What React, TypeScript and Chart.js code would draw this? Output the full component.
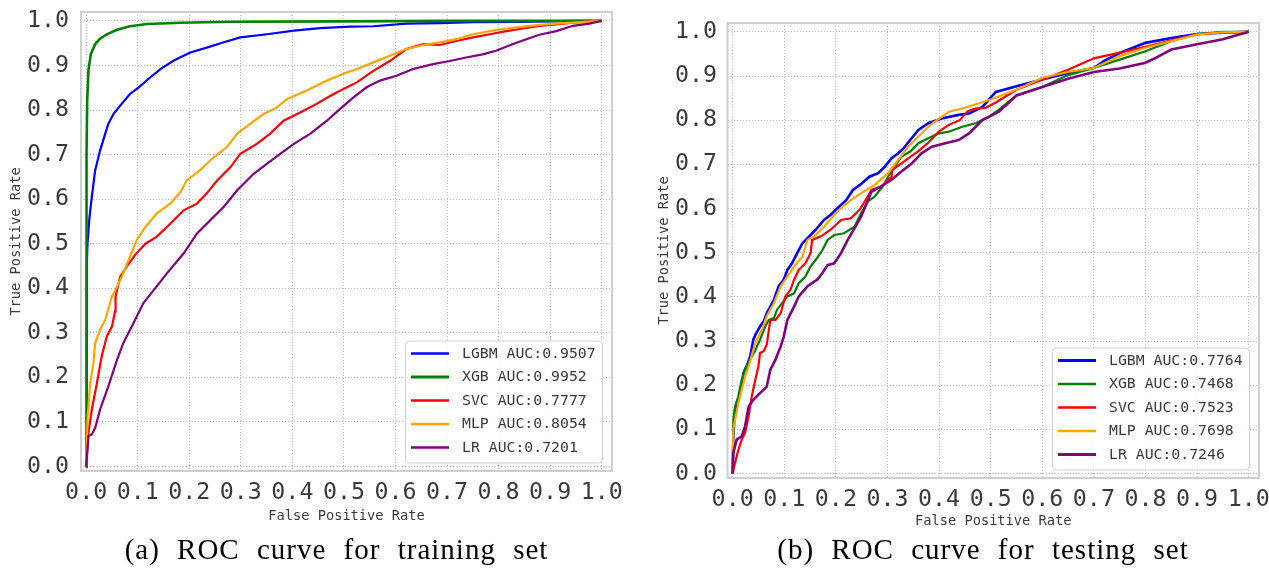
import React, { useEffect, useRef } from 'react';
import { Chart, registerables } from 'chart.js';

Chart.register(...registerables);

// ---------- shared labels ----------
const tickValues = [0, 0.1, 0.2, 0.3, 0.4, 0.5, 0.6, 0.7, 0.8, 0.9, 1.0];
const tickLabels = ['0.0', '0.1', '0.2', '0.3', '0.4', '0.5', '0.6', '0.7', '0.8', '0.9', '1.0'];
const modelNames = ['LGBM', 'XGB', 'SVC', 'MLP', 'LR'];
const modelColors = ['#0000ff', '#008000', '#ff0000', '#ffa500', '#800080'];
const trainAuc = ['0.9507', '0.9952', '0.7777', '0.8054', '0.7201'];
const testAuc = ['0.7764', '0.7468', '0.7523', '0.7698', '0.7246'];
const xAxisTitle = 'False Positive Rate';
const yAxisTitle = 'True Positive Rate';
const captionTrain = '(a) ROC curve for training set';
const captionTest = '(b) ROC curve for testing set';

// ---------- training set ROC points [fpr, tpr] ----------
const trainLgbm = [
  [0, 0], [0.001, 0.3], [0.0015, 0.45], [0.0026, 0.5], [0.0065, 0.56], [0.011, 0.605], [0.0175, 0.665],
  [0.027, 0.709], [0.037, 0.747], [0.043, 0.769], [0.053, 0.791], [0.066, 0.81], [0.085, 0.836],
  [0.102, 0.851], [0.124, 0.873], [0.144, 0.892], [0.17, 0.911], [0.202, 0.929], [0.234, 0.94],
  [0.267, 0.952], [0.299, 0.963], [0.351, 0.97], [0.403, 0.978], [0.454, 0.984], [0.513, 0.987],
  [0.557, 0.988], [0.621, 0.994], [0.686, 0.995], [0.75, 0.997], [0.847, 0.998], [0.944, 1.0], [1, 1],
];
const trainXgb = [
  [0, 0], [0.0005, 0.4], [0.001, 0.7], [0.002, 0.82], [0.0045, 0.89], [0.009, 0.925], [0.0175, 0.948],
  [0.027, 0.96], [0.04, 0.97], [0.06, 0.98], [0.085, 0.988], [0.118, 0.993], [0.183, 0.996],
  [0.28, 0.998], [0.5, 0.999], [0.7, 1], [1, 1],
];
const trainSvc = [
  [0, 0], [0.0045, 0.076], [0.011, 0.128], [0.021, 0.188], [0.03, 0.247], [0.04, 0.292], [0.05, 0.314],
  [0.056, 0.348], [0.057, 0.382], [0.066, 0.426], [0.079, 0.449], [0.095, 0.475], [0.115, 0.5],
  [0.137, 0.516], [0.163, 0.545], [0.189, 0.575], [0.215, 0.59], [0.234, 0.613], [0.254, 0.642],
  [0.28, 0.672], [0.299, 0.702], [0.331, 0.724], [0.357, 0.747], [0.383, 0.776], [0.416, 0.795],
  [0.441, 0.81], [0.474, 0.832], [0.5, 0.848], [0.525, 0.862], [0.557, 0.888], [0.589, 0.91],
  [0.621, 0.937], [0.654, 0.948], [0.686, 0.946], [0.718, 0.955], [0.75, 0.963], [0.783, 0.97],
  [0.815, 0.977], [0.847, 0.983], [0.879, 0.989], [0.912, 0.992], [0.944, 0.996], [1, 1],
];
const trainMlp = [
  [0, 0], [0.0026, 0.106], [0.0078, 0.188], [0.014, 0.232], [0.0175, 0.277], [0.027, 0.307],
  [0.037, 0.329], [0.05, 0.382], [0.06, 0.404], [0.069, 0.426], [0.085, 0.471], [0.098, 0.508],
  [0.115, 0.538], [0.137, 0.568], [0.163, 0.59], [0.183, 0.616], [0.195, 0.642], [0.221, 0.665],
  [0.247, 0.694], [0.273, 0.717], [0.293, 0.747], [0.318, 0.769], [0.344, 0.791], [0.37, 0.806],
  [0.39, 0.825], [0.428, 0.844], [0.467, 0.866], [0.5, 0.882], [0.525, 0.892], [0.557, 0.907],
  [0.589, 0.922], [0.621, 0.937], [0.654, 0.946], [0.686, 0.952], [0.718, 0.959], [0.75, 0.97],
  [0.783, 0.977], [0.815, 0.983], [0.847, 0.987], [0.879, 0.991], [0.912, 0.994], [0.944, 0.996], [1, 1],
];
const trainLr = [
  [0, 0], [0.0045, 0.069], [0.011, 0.072], [0.0175, 0.087], [0.027, 0.128], [0.043, 0.18], [0.06, 0.24],
  [0.072, 0.277], [0.092, 0.322], [0.111, 0.367], [0.131, 0.396], [0.157, 0.434], [0.189, 0.478],
  [0.215, 0.523], [0.247, 0.56], [0.267, 0.583], [0.293, 0.62], [0.325, 0.657], [0.351, 0.68],
  [0.377, 0.702], [0.403, 0.724], [0.435, 0.747], [0.467, 0.776], [0.492, 0.802], [0.518, 0.828],
  [0.544, 0.851], [0.57, 0.866], [0.602, 0.877], [0.634, 0.892], [0.673, 0.903], [0.705, 0.91],
  [0.737, 0.918], [0.769, 0.925], [0.795, 0.933], [0.828, 0.948], [0.854, 0.959], [0.879, 0.969],
  [0.912, 0.977], [0.944, 0.989], [0.976, 0.994], [1, 1],
];

// ---------- testing set ROC points [fpr, tpr] ----------
const testLgbm = [
  [0, 0], [0.0013, 0.084], [0.0046, 0.145], [0.011, 0.167], [0.0176, 0.197], [0.021, 0.228],
  [0.027, 0.243], [0.034, 0.265], [0.04, 0.303], [0.044, 0.314], [0.053, 0.333], [0.06, 0.344],
  [0.066, 0.363], [0.073, 0.378], [0.08, 0.393], [0.089, 0.424], [0.099, 0.439], [0.106, 0.461],
  [0.115, 0.476], [0.125, 0.499], [0.135, 0.521], [0.145, 0.533], [0.161, 0.552], [0.177, 0.574],
  [0.19, 0.586], [0.203, 0.601], [0.22, 0.619], [0.233, 0.642], [0.246, 0.653], [0.265, 0.672],
  [0.282, 0.68], [0.295, 0.695], [0.308, 0.714], [0.321, 0.725], [0.331, 0.736], [0.344, 0.755],
  [0.36, 0.778], [0.379, 0.793], [0.405, 0.804], [0.438, 0.812], [0.458, 0.815], [0.484, 0.83],
  [0.51, 0.864], [0.55, 0.877], [0.6, 0.892], [0.65, 0.907], [0.7, 0.918], [0.72, 0.934],
  [0.75, 0.952], [0.8, 0.975], [0.85, 0.986], [0.9, 0.995], [0.95, 0.998], [1, 1],
];
const testXgb = [
  [0, 0], [0.0013, 0.122], [0.0046, 0.152], [0.011, 0.175], [0.0176, 0.213], [0.024, 0.235],
  [0.034, 0.258], [0.044, 0.28], [0.053, 0.303], [0.063, 0.333], [0.07, 0.348], [0.08, 0.352],
  [0.086, 0.371], [0.096, 0.386], [0.106, 0.401], [0.119, 0.408], [0.128, 0.431], [0.141, 0.446],
  [0.151, 0.469], [0.161, 0.484], [0.174, 0.506], [0.184, 0.529], [0.197, 0.54], [0.216, 0.544],
  [0.236, 0.559], [0.249, 0.589], [0.262, 0.616], [0.275, 0.627], [0.291, 0.65], [0.301, 0.672],
  [0.314, 0.695], [0.327, 0.717], [0.344, 0.729], [0.36, 0.748], [0.379, 0.759], [0.399, 0.77],
  [0.419, 0.774], [0.445, 0.785], [0.471, 0.793], [0.497, 0.808], [0.516, 0.824], [0.55, 0.856],
  [0.6, 0.875], [0.65, 0.902], [0.7, 0.918], [0.75, 0.937], [0.8, 0.956], [0.85, 0.979],
  [0.9, 0.995], [0.95, 1.0], [1, 1],
];
const testSvc = [
  [0, 0], [0.0046, 0.024], [0.011, 0.054], [0.0176, 0.077], [0.024, 0.092], [0.031, 0.13],
  [0.037, 0.175], [0.044, 0.213], [0.05, 0.243], [0.053, 0.273], [0.06, 0.277], [0.066, 0.292],
  [0.073, 0.348], [0.083, 0.348], [0.093, 0.363], [0.102, 0.401], [0.112, 0.416], [0.119, 0.439],
  [0.128, 0.461], [0.141, 0.476], [0.151, 0.499], [0.154, 0.529], [0.171, 0.537], [0.19, 0.552],
  [0.21, 0.574], [0.229, 0.578], [0.246, 0.597], [0.256, 0.616], [0.269, 0.642], [0.288, 0.65],
  [0.308, 0.672], [0.309, 0.687], [0.327, 0.702], [0.344, 0.717], [0.36, 0.73], [0.38, 0.75],
  [0.4, 0.775], [0.42, 0.79], [0.44, 0.8], [0.455, 0.82], [0.47, 0.826], [0.49, 0.828],
  [0.51, 0.84], [0.55, 0.869], [0.6, 0.892], [0.65, 0.914], [0.7, 0.94], [0.75, 0.953],
  [0.8, 0.966], [0.85, 0.981], [0.9, 0.994], [0.95, 0.999], [1, 1],
];
const testMlp = [
  [0, 0], [0.0013, 0.1], [0.0046, 0.122], [0.011, 0.16], [0.0176, 0.19], [0.024, 0.22], [0.031, 0.243],
  [0.04, 0.28], [0.047, 0.303], [0.057, 0.326], [0.066, 0.356], [0.08, 0.386], [0.093, 0.424],
  [0.106, 0.446], [0.119, 0.469], [0.135, 0.491], [0.145, 0.529], [0.158, 0.537], [0.177, 0.559],
  [0.197, 0.586], [0.213, 0.604], [0.229, 0.619], [0.249, 0.635], [0.275, 0.653], [0.301, 0.68],
  [0.321, 0.71], [0.34, 0.74], [0.36, 0.763], [0.379, 0.785], [0.396, 0.8], [0.419, 0.819],
  [0.45, 0.828], [0.5, 0.847], [0.55, 0.869], [0.6, 0.896], [0.65, 0.909], [0.7, 0.918],
  [0.75, 0.945], [0.8, 0.964], [0.85, 0.979], [0.9, 0.994], [0.95, 0.999], [1, 1],
];
const testLr = [
  [0, 0], [0.0013, 0.047], [0.0078, 0.077], [0.0176, 0.084], [0.024, 0.107], [0.031, 0.152],
  [0.04, 0.167], [0.053, 0.182], [0.066, 0.197], [0.073, 0.235], [0.083, 0.258], [0.093, 0.288],
  [0.099, 0.31], [0.106, 0.348], [0.119, 0.378], [0.128, 0.401], [0.145, 0.424], [0.164, 0.439],
  [0.174, 0.454], [0.184, 0.472], [0.197, 0.476], [0.21, 0.499], [0.223, 0.529], [0.236, 0.555],
  [0.249, 0.582], [0.262, 0.619], [0.269, 0.638], [0.288, 0.65], [0.308, 0.665], [0.327, 0.684],
  [0.347, 0.702], [0.366, 0.725], [0.386, 0.74], [0.412, 0.748], [0.438, 0.755], [0.458, 0.77],
  [0.484, 0.8], [0.516, 0.819], [0.55, 0.856], [0.6, 0.875], [0.65, 0.894], [0.7, 0.909],
  [0.75, 0.917], [0.8, 0.93], [0.82, 0.941], [0.85, 0.96], [0.9, 0.972], [0.95, 0.983], [1, 1],
];

const MONO = '"DejaVu Sans Mono", "Liberation Mono", monospace';
const TEXT = '#3a3a3a';
const GRID = '#bdbdbd';

interface PanelConfig {
  left: number;
  width: number;
  series: number[][][];
  aucs: string[];
  lineWidths: number[];
  caption: string;
  captionX: number;
  yAxisWidth: number;
  rightPad: number;
  topPad: number;
  xAxisHeight: number;
  yTickPad: number;
  xTickPad: number;
  xTitlePad: number;
  yTitlePad: number;
}

function RocPanel({ cfg }: { cfg: PanelConfig }) {
  const ref = useRef<HTMLCanvasElement>(null);

  useEffect(() => {
    const canvas = ref.current;
    if (!canvas) return;

    const datasets = cfg.series.map((pts, i) => ({
      label: `${modelNames[i]} AUC:${cfg.aucs[i]}`,
      data: pts.map((p) => ({ x: p[0], y: p[1] })),
      borderColor: modelColors[i],
      backgroundColor: modelColors[i],
      borderWidth: cfg.lineWidths[i],
      pointRadius: 0,
      pointHoverRadius: 0,
      showLine: true,
      fill: false,
      tension: 0,
      order: modelNames.length - i,
    }));

    const framePlugin = {
      id: 'frame',
      afterDatasetsDraw(chart: any) {
        const { ctx, chartArea: a } = chart;
        ctx.save();
        ctx.strokeStyle = '#cfcfcf';
        ctx.lineWidth = 2;
        ctx.strokeRect(a.left, a.top, a.right - a.left, a.bottom - a.top);
        ctx.restore();
      },
    };

    const legendPlugin = {
      id: 'legendBox',
      afterDraw(chart: any) {
        const { ctx, chartArea: a } = chart;
        const w = 197;
        const h = 122;
        const x0 = a.right - 10 - w;
        const y0 = a.bottom - 8.5 - h;
        ctx.save();
        ctx.fillStyle = 'rgba(255,255,255,0.85)';
        ctx.strokeStyle = '#d0d0d0';
        ctx.lineWidth = 1;
        ctx.beginPath();
        if (ctx.roundRect) ctx.roundRect(x0 + 0.5, y0 + 0.5, w, h, 4);
        else ctx.rect(x0 + 0.5, y0 + 0.5, w, h);
        ctx.fill();
        ctx.stroke();
        ctx.font = `14.8px ${MONO}`;
        ctx.textBaseline = 'middle';
        ctx.textAlign = 'left';
        chart.data.datasets.forEach((ds: any, i: number) => {
          const y = y0 + 13 + i * 23.5;
          ctx.strokeStyle = ds.borderColor;
          ctx.lineWidth = ds.borderWidth + 0.3;
          ctx.beginPath();
          ctx.moveTo(x0 + 6, y);
          ctx.lineTo(x0 + 44, y);
          ctx.stroke();
          ctx.fillStyle = TEXT;
          ctx.fillText(ds.label, x0 + 57, y + 0.5);
        });
        ctx.restore();
      },
    };

    const captionPlugin = {
      id: 'caption',
      afterDraw(chart: any) {
        const { ctx } = chart;
        ctx.save();
        ctx.font = '29px "Liberation Serif", "Times New Roman", serif';
        (ctx as any).letterSpacing = '1px';
        (ctx as any).wordSpacing = '9px';
        ctx.fillStyle = '#000';
        ctx.textAlign = 'center';
        ctx.textBaseline = 'middle';
        ctx.fillText(cfg.caption, cfg.captionX, 551);
        ctx.restore();
      },
    };

    const tickFont = { family: MONO, size: 23.3 };
    const titleFont = { family: MONO, size: 13.7 };

    const chart = new Chart(canvas, {
      type: 'scatter',
      data: { datasets } as any,
      options: {
        animation: false,
        responsive: false,
        devicePixelRatio: 1,
        events: [],
        layout: { padding: { left: 0, right: cfg.rightPad, top: cfg.topPad, bottom: 0 } },
        plugins: {
          legend: { display: false },
          tooltip: { enabled: false },
          title: { display: false },
        },
        scales: {
          x: {
            type: 'linear',
            position: 'bottom',
            min: -0.01,
            max: 1.02,
            afterBuildTicks: (s: any) => {
              s.ticks = tickValues.map((v) => ({ value: v }));
            },
            afterFit: (s: any) => {
              s.height = cfg.xAxisHeight;
              s.paddingLeft = 0;
              s.paddingRight = 0;
              s.paddingTop = 0;
              s.paddingBottom = 0;
            },
            ticks: {
              callback: (_v: any, i: number) => tickLabels[i],
              font: tickFont,
              color: TEXT,
              padding: cfg.xTickPad,
              autoSkip: false,
              maxRotation: 0,
              minRotation: 0,
            },
            grid: { color: GRID, lineWidth: 1, drawTicks: false },
            border: { display: false, dash: [1, 2] },
            title: {
              display: true,
              text: xAxisTitle,
              font: titleFont,
              color: TEXT,
              padding: { top: 0, bottom: cfg.xTitlePad },
            },
          },
          y: {
            type: 'linear',
            position: 'left',
            min: -0.01,
            max: 1.02,
            afterBuildTicks: (s: any) => {
              s.ticks = tickValues.map((v) => ({ value: v }));
            },
            afterFit: (s: any) => {
              s.width = cfg.yAxisWidth;
              s.paddingLeft = 0;
              s.paddingRight = 0;
              s.paddingTop = 0;
              s.paddingBottom = 0;
            },
            ticks: {
              callback: (_v: any, i: number) => tickLabels[i],
              font: tickFont,
              color: TEXT,
              padding: cfg.yTickPad,
              autoSkip: false,
            },
            grid: { color: GRID, lineWidth: 1, drawTicks: false },
            border: { display: false, dash: [1, 2] },
            title: {
              display: true,
              text: yAxisTitle,
              font: titleFont,
              color: TEXT,
              padding: { top: cfg.yTitlePad, bottom: 0 },
            },
          },
        },
      } as any,
      plugins: [framePlugin, legendPlugin, captionPlugin],
    });

    return () => chart.destroy();
  }, [cfg]);

  return (
    <canvas
      ref={ref}
      width={cfg.width}
      height={568}
      style={{ position: 'absolute', left: cfg.left, top: 0, width: cfg.width, height: 568 }}
    />
  );
}

const trainPanel: PanelConfig = {
  left: 0,
  width: 640,
  series: [trainLgbm, trainXgb, trainSvc, trainMlp, trainLr],
  aucs: trainAuc,
  lineWidths: [2.2, 2.6, 2.2, 2.2, 2.2],
  caption: captionTrain,
  captionX: 336.5,
  yAxisWidth: 81,
  rightPad: 28,
  topPad: 12,
  xAxisHeight: 97,
  yTickPad: 12,
  xTickPad: 8,
  xTitlePad: 43.8,
  yTitlePad: 8.1,
};

const testPanel: PanelConfig = {
  left: 640,
  width: 629,
  series: [testLgbm, testXgb, testSvc, testMlp, testLr],
  aucs: testAuc,
  lineWidths: [2.6, 2.2, 2.2, 2.2, 2.6],
  caption: captionTest,
  captionX: 343,
  yAxisWidth: 87.5,
  rightPad: 10,
  topPad: 23,
  xAxisHeight: 90,
  yTickPad: 10.5,
  xTickPad: 7.5,
  xTitlePad: 38.1,
  yTitlePad: 15.8,
};

export default function App() {
  return (
    <div
      style={{
        position: 'absolute',
        left: 0,
        top: 0,
        width: 1269,
        height: 568,
        background: '#ffffff',
        overflow: 'hidden',
      }}
    >
      <RocPanel cfg={trainPanel} />
      <RocPanel cfg={testPanel} />
    </div>
  );
}
